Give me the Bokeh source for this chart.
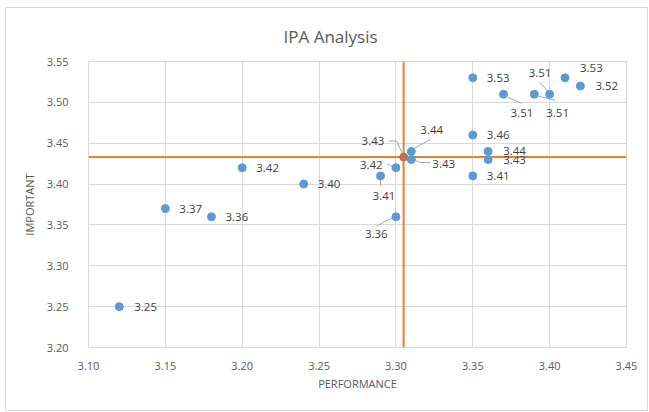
from bokeh.plotting import figure
from bokeh.layouts import column
from bokeh.models import ColumnDataSource, FixedTicker, NumeralTickFormatter, Range1d
from bokeh.core.properties import value
from bokeh.embed import file_html
from bokeh.resources import INLINE

# ---- data ----
performance = [3.12, 3.15, 3.18, 3.20, 3.24, 3.29, 3.30, 3.30, 3.31, 3.31,
               3.35, 3.35, 3.35, 3.36, 3.36, 3.37, 3.39, 3.40, 3.41, 3.42]
important = [3.25, 3.37, 3.36, 3.42, 3.40, 3.41, 3.42, 3.36, 3.44, 3.43,
             3.53, 3.46, 3.41, 3.44, 3.43, 3.51, 3.51, 3.51, 3.53, 3.52]
mean_performance = 3.305
mean_important = 3.433
x_ticks = [3.10, 3.15, 3.20, 3.25, 3.30, 3.35, 3.40, 3.45]
y_ticks = [3.20, 3.25, 3.30, 3.35, 3.40, 3.45, 3.50, 3.55]
title_text = "IPA Analysis"
x_title = "PERFORMANCE"
y_title = "IMPORTANT"

# ---- label placement (pixel offsets, screen y downward) ----
label_dx = [15, 14, 14, 14, 14, -8, -36, -31, 9, 21, 14, 14, 14, 15, 15, 7, 12, -21, 15, 15]
label_dy = [0, 0, 0, 0, 0, 20, -3, 17, -21, 4, 0, 0, 0, 0, 0, 19, 19, -21, -10, 0]
mean_label_dx, mean_label_dy = -42, -16
leaders = {
    5: [(0, 4), (0, 10)],
    6: [(-9, -4), (-3, -1)],
    7: [(-19, 9), (-3, 1)],
    8: [(3, -3), (19, -12)],
    9: [(4, 1), (9, 3), (19, 3)],
    15: [(4, 3), (18, 9)],
    16: [(4, 2), (21, 6)],
    17: [(-10, -12), (-1, -2)],
}
mean_leader = [(-15, -16), (-7, -16), (-1, -3)]

X0, X1 = x_ticks[0], x_ticks[-1]
Y0, Y1 = y_ticks[0], y_ticks[-1]
FW, FH = 538, 286
kx = (X1 - X0) / FW
ky = (Y1 - Y0) / FH

BLUE = "#5B9BD5"
ORANGE = "#ED7D31"
GRID = "#d9d9d9"
TXT = "#595959"
FONT = "Open Sans"

p = figure(frame_width=FW, frame_height=FH, output_backend="svg", toolbar_location=None,
           x_range=Range1d(X0, X1), y_range=Range1d(Y0, Y1),
           min_border_left=82, min_border_right=21, min_border_top=52, min_border_bottom=63,
           background_fill_color="white", border_fill_color="white")
p.outline_line_color = GRID

p.title.text = title_text
p.title.align = "left"
p.title.offset = 195
p.title.text_font = FONT
p.title.text_font_size = "17px"
p.title.text_font_style = "normal"
p.title.text_color = TXT
p.title.standoff = 28

for ax, ticks in ((p.xaxis, x_ticks), (p.yaxis, y_ticks)):
    ax.ticker = FixedTicker(ticks=ticks)
    ax.formatter = NumeralTickFormatter(format="0.00")
    ax.axis_line_color = None
    ax.major_tick_line_color = None
    ax.minor_tick_line_color = None
    ax.major_label_text_color = TXT
    ax.major_label_text_font = FONT
    ax.major_label_text_font_size = "11px"
    ax.axis_label_text_color = TXT
    ax.axis_label_text_font = FONT
    ax.axis_label_text_font_size = "11px"
    ax.axis_label_text_font_style = "normal"
p.xaxis.axis_label = x_title
p.yaxis.axis_label = y_title
p.xaxis.major_label_standoff = 8
p.xaxis.axis_label_standoff = 3
p.yaxis.major_label_standoff = 14
p.yaxis.axis_label_standoff = 7

p.xgrid.ticker = FixedTicker(ticks=x_ticks)
p.ygrid.ticker = FixedTicker(ticks=y_ticks)
p.grid.grid_line_color = GRID
p.grid.grid_line_width = 1

# mean lines
p.segment(x0=[mean_performance, X0], y0=[Y0, mean_important],
          x1=[mean_performance, X1], y1=[Y1, mean_important],
          line_color=ORANGE, line_width=2)

# leader lines
lx, ly = [], []
for i, pts in leaders.items():
    lx.append([performance[i] + a * kx for a, b in pts])
    ly.append([important[i] - b * ky for a, b in pts])
lx.append([mean_performance + a * kx for a, b in mean_leader])
ly.append([mean_important - b * ky for a, b in mean_leader])
p.multi_line(xs=lx, ys=ly, line_color="#a6a6a6", line_width=1)

src = ColumnDataSource(dict(x=performance, y=important,
                            lab=["%.2f" % v for v in important],
                            dx=label_dx, dy=label_dy))
p.scatter("x", "y", source=src, size=8, fill_color=BLUE, line_color=BLUE)
p.scatter([mean_performance], [mean_important], size=8, fill_color="#B8754F", line_color="#B8754F")

p.text("x", "y", text="lab", source=src, x_offset="dx", y_offset="dy",
       text_font=value(FONT), text_font_size="11.5px", text_color="#404040",
       text_baseline="middle", text_align="left")
p.text([mean_performance], [mean_important], text=["%.2f" % mean_important],
       x_offset=mean_label_dx, y_offset=mean_label_dy,
       text_font=value(FONT), text_font_size="11.5px", text_color="#404040",
       text_baseline="middle", text_align="left")

layout = column(p, styles={"border": "1px solid #d9d9d9", "margin": "7px 0 0 5px"})

open("out.html", "w").write(file_html(layout, INLINE))
